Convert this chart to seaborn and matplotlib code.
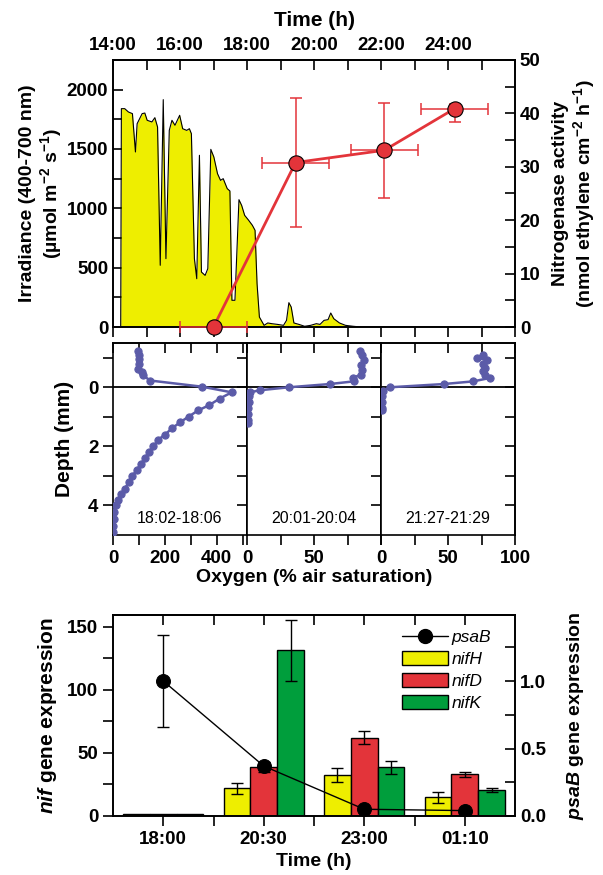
import numpy as np
import pandas as pd
import matplotlib
matplotlib.use('Agg')
import matplotlib.pyplot as plt
from matplotlib.lines import Line2D
from matplotlib.patches import Patch
import seaborn as sns

# ---------------- data ----------------
# top panel: irradiance trace (hours since midnight, µmol m-2 s-1)
irr_time = [14.23, 14.25, 14.35, 14.46, 14.58, 14.67, 14.72, 14.87, 14.95, 15.02,
            15.16, 15.25, 15.33, 15.41, 15.50, 15.58, 15.68, 15.76, 15.85, 15.99,
            16.08, 16.20, 16.28, 16.34, 16.43, 16.50, 16.58, 16.64, 16.75, 16.83,
            16.92, 17.01, 17.12, 17.21, 17.29, 17.41, 17.49, 17.55, 17.64, 17.76,
            17.84, 17.93, 18.05, 18.16, 18.24, 18.30, 18.37, 18.51, 18.62, 18.74,
            18.91, 19.09, 19.18, 19.25, 19.32, 19.40, 19.55, 19.72, 19.90, 20.07,
            20.18, 20.30, 20.42, 20.50, 20.59, 20.76, 20.94, 21.17, 21.40, 25.05]
irr_value = [0, 1840, 1840, 1812, 1798, 1475, 1713, 1798, 1803, 1742,
             1728, 1764, 1685, 520, 1916, 576, 1657, 1742, 1700, 1784,
             1671, 1657, 1671, 1629, 576, 407, 1447, 463, 435, 492,
             1497, 1433, 1292, 1236, 1250, 1166, 1146, 225, 225, 1073,
             1025, 941, 899, 857, 815, 365, 84, 14, 34, 28,
             22, 14, 56, 205, 168, 34, 22, 6, 14, 28,
             22, 56, 62, 118, 70, 34, 14, 6, 0, 0]

# top panel: nitrogenase activity
nit_time = [17.0, 19.45, 22.1, 24.2]
nit_value = [0.0, 30.8, 33.1, 40.9]
nit_xerr = [1.0, 1.0, 1.0, 1.0]
nit_yerr_low = [0.0, 12.0, 8.9, 2.5]
nit_yerr_high = [0.0, 12.0, 8.8, 0.8]

# middle panels: oxygen profiles
prof_labels = ['18:02-18:06', '20:01-20:04', '21:27-21:29']
depth_1 = [-1.22, -1.09, -0.95, -0.80, -0.63, -0.51, -0.40, -0.23, -0.02, 0.17,
           0.38, 0.61, 0.78, 0.99, 1.18, 1.39, 1.60, 1.77, 2.00, 2.19,
           2.40, 2.59, 2.80, 3.00, 3.21, 3.43, 3.62, 3.83, 4.00, 4.23,
           4.46, 4.69, 4.91]
o2_1 = [97, 100, 101, 101, 97, 110, 117, 143, 344, 458,
        412, 370, 329, 292, 260, 227, 201, 175, 156, 139,
        123, 108, 91, 75, 62, 45, 32, 19, 10, 4,
        3, 1, 0]
depth_2 = [-1.22, -1.10, -0.94, -0.77, -0.60, -0.43, -0.32, -0.20, -0.11, 0.00,
           0.10, 0.17, 0.30, 0.50, 0.70, 0.90, 1.10, 1.22]
o2_2 = [84.7, 86.0, 87.0, 85.0, 86.0, 85.0, 79.0, 79.5, 61.6, 31.0,
        9.5, 2.3, 1.5, 1.2, 1.0, 1.0, 1.0, 1.0]
depth_3 = [-1.10, -1.00, -0.92, -0.80, -0.66, -0.54, -0.43, -0.32, -0.20, -0.11,
           0.00, 0.14, 0.30, 0.50, 0.70, 0.76]
o2_3 = [76.0, 71.6, 79.0, 76.0, 77.4, 76.0, 77.4, 81.7, 68.7, 46.7,
        6.4, 1.4, 1.0, 0.8, 0.6, 0.6]

# bottom panel: gene expression
gene_times = ['18:00', '20:30', '23:00', '01:10']
gene_names = ['nifH', 'nifD', 'nifK']
nifH = [1.6, 22.0, 32.5, 14.8]
nifH_err = [0.0, 4.5, 5.5, 4.5]
nifD = [1.6, 38.6, 62.0, 33.0]
nifD_err = [0.0, 3.5, 5.0, 1.7]
nifK = [1.6, 131.3, 38.6, 20.3]
nifK_err = [0.0, 24.0, 5.0, 1.6]
psaB = [1.0, 0.37, 0.05, 0.04]
psaB_err = [0.34, 0.03, 0.0, 0.0]

# ---------------- style ----------------
sns.set_style('ticks')
plt.rcParams['font.family'] = ['Liberation Sans', 'DejaVu Sans']
plt.rcParams['font.weight'] = 'bold'
plt.rcParams['axes.labelweight'] = 'bold'
plt.rcParams['mathtext.fontset'] = 'custom'
plt.rcParams['mathtext.rm'] = 'Liberation Sans:bold'
plt.rcParams['mathtext.bf'] = 'Liberation Sans:bold'
plt.rcParams['mathtext.it'] = 'Liberation Sans:italic:bold'
plt.rcParams['axes.linewidth'] = 1.2
plt.rcParams['axes.edgecolor'] = 'black'
plt.rcParams['text.color'] = 'black'
plt.rcParams['axes.labelcolor'] = 'black'
plt.rcParams['xtick.color'] = 'black'
plt.rcParams['ytick.color'] = 'black'

YEL = '#EEEE00'
RED = '#E3343A'
GRN = '#009E3C'
BLUE = '#5B5BA8'
TFS = 13.5   # tick font
LFS = 14     # label font
TL = 7       # tick length

W, H = 603, 875
def box(l, r, t, b):
    return [l / W, 1 - b / H, (r - l) / W, (b - t) / H]

fig = plt.figure(figsize=(W / 100, H / 100), dpi=100)

def style_ticks(ax, axis, direction, **kw):
    ax.tick_params(axis=axis, which='both', direction=direction, length=TL,
                   width=1.2, labelsize=TFS, colors='black', **kw)

# ================= TOP PANEL =================
ax1 = fig.add_axes(box(113, 515, 60, 327))
ax1.fill_between(irr_time, irr_value, color=YEL, lw=0)
sns.lineplot(x=irr_time, y=irr_value, color='black', lw=0.8, sort=False,
             estimator=None, ax=ax1)
ax1.set_xlim(14, 26)
ax1.set_ylim(0, 2250)
ax1.set_yticks(np.arange(0, 2001, 500))
ax1.set_yticks(np.arange(250, 2250, 500), minor=True)
ax1.set_xticks(np.arange(14, 27, 1))
ax1.set_xticklabels([])
style_ticks(ax1, 'x', 'out')
style_ticks(ax1, 'y', 'in')
ax1.set_ylabel('Irradiance (400-700 nm)\n(µmol m$^{-2}$ s$^{-1}$)', fontsize=LFS,
               labelpad=2, linespacing=1.1)
ax1.set_xlabel('')

sec1 = ax1.secondary_xaxis('top')
hours = np.arange(14, 27, 1)
sec1.set_xticks(hours)
sec1.set_xticklabels([f'{h}:00' if (h % 2 == 0 and h <= 24) else '' for h in hours])
sec1.tick_params(axis='x', direction='in', length=TL, width=1.2, labelsize=TFS, pad=4)
sec1.set_xlabel('Time (h)', fontsize=15, labelpad=8)

ax1r = ax1.twinx()
ax1r.set_ylim(0, 50)
ax1r.set_yticks(np.arange(0, 51, 10))
ax1r.set_yticks(np.arange(5, 50, 10), minor=True)
style_ticks(ax1r, 'y', 'in')
ax1r.errorbar(nit_time, nit_value, xerr=nit_xerr, yerr=[nit_yerr_low, nit_yerr_high],
              fmt='none', ecolor=RED, elinewidth=1.1, capsize=4.5, capthick=1.1,
              zorder=4, clip_on=False)
sns.lineplot(x=nit_time, y=nit_value, color=RED, lw=2, marker='o', markersize=11,
             markeredgecolor='black', markeredgewidth=0.8, ax=ax1r, zorder=5,
             clip_on=False)
ax1r.set_ylabel('Nitrogenase activity\n(nmol ethylene cm$^{-2}$ h$^{-1}$)', fontsize=LFS,
                labelpad=8, linespacing=1.1)

# ================= MIDDLE PANELS =================
mid_edges = [113, 247, 381, 515]
mid_xlims = [(0, 517), (0, 100), (0, 100)]
mid_ticks = [np.arange(0, 501, 100), np.arange(0, 101, 25), np.arange(0, 101, 25)]
mid_labels = [['0', '', '200', '', '400', ''],
              ['0', '', '50', '', ''],
              ['0', '', '50', '', '100']]
profiles = [(o2_1, depth_1), (o2_2, depth_2), (o2_3, depth_3)]
mid_axes = []
for i in range(3):
    ax = fig.add_axes(box(mid_edges[i], mid_edges[i + 1], 343, 535))
    o2, dep = profiles[i]
    sns.lineplot(x=o2, y=dep, sort=False, estimator=None, color=BLUE, lw=1.8,
                 marker='o', markersize=5.2, markeredgecolor=BLUE, ax=ax, zorder=3)
    ax.axhline(0, color='black', lw=1.3, zorder=2)
    ax.set_xlim(*mid_xlims[i])
    ax.set_ylim(5, -1.5)
    ax.set_xticks(mid_ticks[i])
    ax.set_xticklabels(mid_labels[i])
    style_ticks(ax, 'x', 'out')
    ax.set_xlabel('')
    ax.set_ylabel('')
    ax.set_yticks([-1, 0, 1, 2, 3, 4])
    if i == 0:
        ax.set_yticklabels(['', '0', '', '2', '', '4'])
        style_ticks(ax, 'y', 'out')
        ax.set_ylabel('Depth (mm)', fontsize=15, labelpad=10)
    else:
        ax.set_yticklabels([])
        ax.tick_params(axis='y', left=False)
    secx = ax.secondary_xaxis('top')
    secx.set_xticks(mid_ticks[i])
    secx.set_xticklabels([])
    secx.tick_params(axis='x', direction='in', length=TL, width=1.2)
    secy = ax.secondary_yaxis('right')
    secy.set_yticks([-1, 0, 1, 2, 3, 4])
    secy.set_yticklabels([])
    secy.tick_params(axis='y', direction='in', length=TL, width=1.2)
    ax.text(0.5, 0.085, prof_labels[i], transform=ax.transAxes, ha='center',
            va='center', fontsize=11.5, fontweight='normal')
    mid_axes.append(ax)

fig.text((113 + 515) / 2 / W, 1 - 578 / H, 'Oxygen (% air saturation)', ha='center',
         va='center', fontsize=LFS, fontweight='bold')

# ================= BOTTOM PANEL =================
ax3 = fig.add_axes(box(113, 515, 615, 816))
gene_df = pd.DataFrame({
    'time': gene_times * 3,
    'gene': ['nifH'] * 4 + ['nifD'] * 4 + ['nifK'] * 4,
    'value': nifH + nifD + nifK,
})
sns.barplot(data=gene_df, x='time', y='value', hue='gene', order=gene_times,
            hue_order=gene_names, palette=[YEL, RED, GRN], edgecolor='black',
            linewidth=1.0, errorbar=None, legend=False, width=0.8, saturation=1,
            ax=ax3)
gene_errs = [nifH_err, nifD_err, nifK_err]
for cont, errs in zip(ax3.containers, gene_errs):
    for bar, e in zip(cont, errs):
        if e > 0:
            ax3.errorbar(bar.get_x() + bar.get_width() / 2, bar.get_height(), yerr=e,
                         fmt='none', ecolor='black', elinewidth=1.0, capsize=4.5,
                         capthick=1.0, zorder=5)
ax3.set_xlim(-0.5, 3.5)
ax3.set_ylim(0, 159.3)
ax3.set_yticks([0, 50, 100, 150])
ax3.set_yticks([25, 75, 125], minor=True)
ax3.set_xticks([0, 1, 2, 3])
ax3.set_xticks([0.5, 1.5, 2.5], minor=True)
style_ticks(ax3, 'x', 'out')
style_ticks(ax3, 'y', 'out')
ax3.set_xlabel('Time (h)', fontsize=LFS, labelpad=4)
ax3.set_ylabel('$\\mathit{nif}$ gene expression', fontsize=LFS + 1, labelpad=6)
sec3 = ax3.secondary_xaxis('top')
sec3.set_xticks([0, 0.5, 1, 1.5, 2, 2.5, 3])
sec3.set_xticklabels([])
sec3.tick_params(axis='x', direction='in', length=TL, width=1.2)

ax3r = ax3.twinx()
ax3r.set_ylim(0, 1.489)
ax3r.set_yticks([0.0, 0.5, 1.0])
ax3r.set_yticklabels(['0.0', '0.5', '1.0'])
ax3r.set_yticks([0.25, 0.75, 1.25], minor=True)
style_ticks(ax3r, 'y', 'in')
psaB_x = np.arange(len(gene_times))
ax3r.errorbar(psaB_x, psaB, yerr=psaB_err, fmt='none', ecolor='black',
              elinewidth=1.0, capsize=4.5, capthick=1.0, zorder=4)
sns.lineplot(x=psaB_x, y=psaB, color='black', lw=1.0, marker='o', markersize=10,
             markeredgecolor='black', ax=ax3r, zorder=5)
ax3r.set_ylabel('$\\mathit{psaB}$ gene expression', fontsize=LFS, labelpad=14)

handles = [Line2D([0], [0], color='black', lw=1.0, marker='o', markersize=10),
           Patch(facecolor=YEL, edgecolor='black'),
           Patch(facecolor=RED, edgecolor='black'),
           Patch(facecolor=GRN, edgecolor='black')]
ax3r.legend(handles, ['psaB'] + gene_names, loc='upper left',
            bbox_to_anchor=(0.72, 0.93), frameon=False,
            prop={'style': 'italic', 'weight': 'normal', 'size': 12.5},
            handlelength=2.6, handleheight=0.85, labelspacing=0.35,
            handletextpad=0.25, borderpad=0, borderaxespad=0)

fig.savefig('out.png', dpi=100)
